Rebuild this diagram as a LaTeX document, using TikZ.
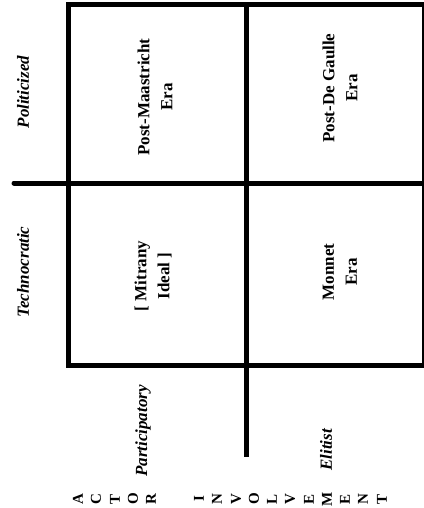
\documentclass[tikz,border=0pt]{standalone}
\usepackage{fontspec}
\setmainfont{Liberation Serif}
\tikzset{
  axislabel/.style={rotate=90, font=\bfseries\itshape\fontsize{17}{20}\selectfont},
  cellname/.style={rotate=90, align=center, font=\bfseries\fontsize{17}{23}\selectfont},
  axisletter/.style={rotate=90, inner sep=0pt, font=\bfseries\fontsize{15}{17}\selectfont},
  bar/.style={line width=5pt},
}
\begin{document}
\begin{tikzpicture}[x=1pt, y=-1pt]
        \useasboundingbox (0,0) rectangle (423,508);

        % Corners and ends of the lines
        \coordinate (tl) at (68,5);
        \coordinate (tr) at (424,5);
        \coordinate (bl) at (68,365);
        \coordinate (br) at (424,365);
        \coordinate (coltop) at (246,5);
        \coordinate (colend) at (246,457);
        \coordinate (rowstart) at (14,183);
        \coordinate (rowend) at (424,183);

        % Frame
        \draw[bar] (tl) -- (tr) -- (br) -- (bl) -- cycle;

        % Dividing lines
        \draw[bar, line cap=round] (rowstart) -- (rowend);
        \draw[bar] (coltop) -- (colend);

        % Row labels
        \node[axislabel] (politicized) at (23,92) {Politicized};
        \node[axislabel] (technocratic) at (23,272) {Technocratic};

        % Cells
        \node[cellname] (maastricht) at (155,97) {Post-Maastricht\\Era};
        \node[cellname] (degaulle) at (340,88) {Post-De Gaulle\\Era};
        \node[cellname] (mitrany) at (153,276) {[ Mitrany\\Ideal ]};
        \node[cellname] (monnet) at (340,272) {Monnet\\Era};

        % Column labels
        \node[axislabel] (participatory) at (143,431) {Participatory};
        \node[axislabel] (elitist) at (326,450) {Elitist};

        % Axis title, one letter at a time
        \foreach \i/\x/\l in {1/78/A, 2/96/C, 3/115/T, 4/133/O, 5/151/R,
            6/199/I, 7/217/N, 8/236/V, 9/254/O, 10/272/L, 11/290/V,
            12/309/E, 13/327/M, 14/345/E, 15/363/N, 16/382/T} {
            \node[axisletter] (letter\i) at (\x,499) {\l};
        }
\end{tikzpicture}
\end{document}
